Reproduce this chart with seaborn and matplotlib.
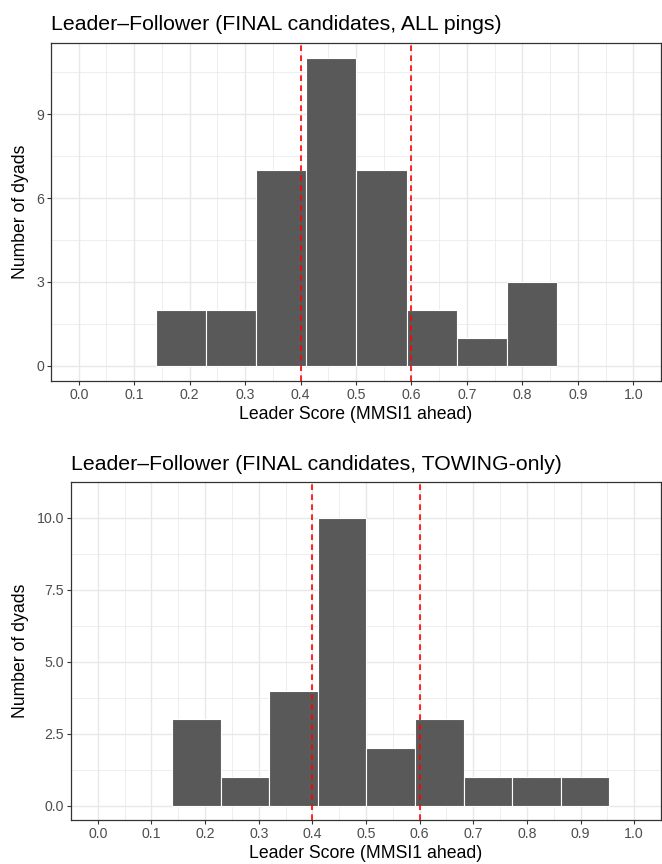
import numpy as np
import pandas as pd
import matplotlib
matplotlib.use("Agg")
import matplotlib.pyplot as plt
import seaborn as sns

# Histogram bin edges (leader score); the towing panel uses one more bin
bin_edges = [0.1385, 0.2291, 0.3197, 0.4103, 0.5009, 0.5915, 0.6821, 0.7727, 0.8633, 0.9539]

# Counts of dyads per bin
all_pings_counts = [2, 2, 7, 11, 7, 2, 1, 3]
towing_counts = [3, 1, 4, 10, 2, 3, 1, 1, 1]

# Reference thresholds
thresholds = [0.4, 0.6]

x_ticks = [0.0, 0.1, 0.2, 0.3, 0.4, 0.5, 0.6, 0.7, 0.8, 0.9, 1.0]
x_tick_labels = ["0.0", "0.1", "0.2", "0.3", "0.4", "0.5", "0.6", "0.7", "0.8", "0.9", "1.0"]
top_y_ticks = [0, 3, 6, 9]
top_y_labels = ["0", "3", "6", "9"]
bottom_y_ticks = [0.0, 2.5, 5.0, 7.5, 10.0]
bottom_y_labels = ["0.0", "2.5", "5.0", "7.5", "10.0"]

titles = ["Leader\u2013Follower (FINAL candidates, ALL pings)",
          "Leader\u2013Follower (FINAL candidates, TOWING-only)"]

sns.set_theme(style="white")
plt.rcParams["font.family"] = ["Liberation Sans", "DejaVu Sans"]

fig = plt.figure(figsize=(6.62, 8.64), dpi=100)
ax_top = fig.add_axes([51 / 662, (864 - 381) / 864, 610 / 662, 338 / 864])
ax_bot = fig.add_axes([71 / 662, (864 - 820) / 864, 590 / 662, 338 / 864])


def draw_panel(ax, counts, title, yticks, ylabels, ymax):
    edges = bin_edges[:len(counts) + 1]
    centers = [(a + b) / 2 for a, b in zip(edges[:-1], edges[1:])]
    df = pd.DataFrame({"score": centers, "n": counts})
    ax.set_facecolor("white")
    sns.histplot(data=df, x="score", weights="n", bins=edges, ax=ax,
                 color="#595959", alpha=1.0, edgecolor="white", linewidth=0.8,
                 zorder=2)
    for t in thresholds:
        ax.axvline(t, color="#FF0000", linestyle=(0, (3.4, 2.6)), linewidth=1.2, zorder=3)

    ax.set_xlim(-0.05, 1.05)
    ax.set_ylim(-0.05 * ymax, 1.05 * ymax)
    ax.set_xticks(x_ticks)
    ax.set_xticklabels(x_tick_labels)
    ax.set_yticks(yticks)
    ax.set_yticklabels(ylabels)

    # Minor gridlines half-way between the major ones
    xminor = [v + 0.05 for v in x_ticks[:-1]]
    step = yticks[1] - yticks[0]
    yminor = [v + step / 2 for v in yticks]
    ax.set_xticks(xminor, minor=True)
    ax.set_yticks(yminor, minor=True)
    ax.grid(which="major", color="#E8E8E8", linewidth=1.0, zorder=0)
    ax.grid(which="minor", color="#E8E8E8", linewidth=0.5, zorder=0)
    ax.set_axisbelow(True)

    ax.tick_params(which="major", axis="both", length=3.2, width=0.8, color="#333333",
                   labelsize=10.2, labelcolor="#4D4D4D", pad=2, bottom=True, left=True)
    ax.tick_params(which="minor", length=0)
    for s in ax.spines.values():
        s.set_visible(True)
        s.set_color("#333333")
        s.set_linewidth(0.9)

    ax.set_xlabel("Leader Score (MMSI1 ahead)", fontsize=12.7, color="black", labelpad=3)
    ax.set_ylabel("Number of dyads", fontsize=12.7, color="black", labelpad=5)
    ax.set_title(title, loc="left", fontsize=15.3, color="black", pad=9)


draw_panel(ax_top, all_pings_counts, titles[0], top_y_ticks, top_y_labels, 11)
draw_panel(ax_bot, towing_counts, titles[1], bottom_y_ticks, bottom_y_labels, 10)

fig.savefig("out.png", dpi=100)
